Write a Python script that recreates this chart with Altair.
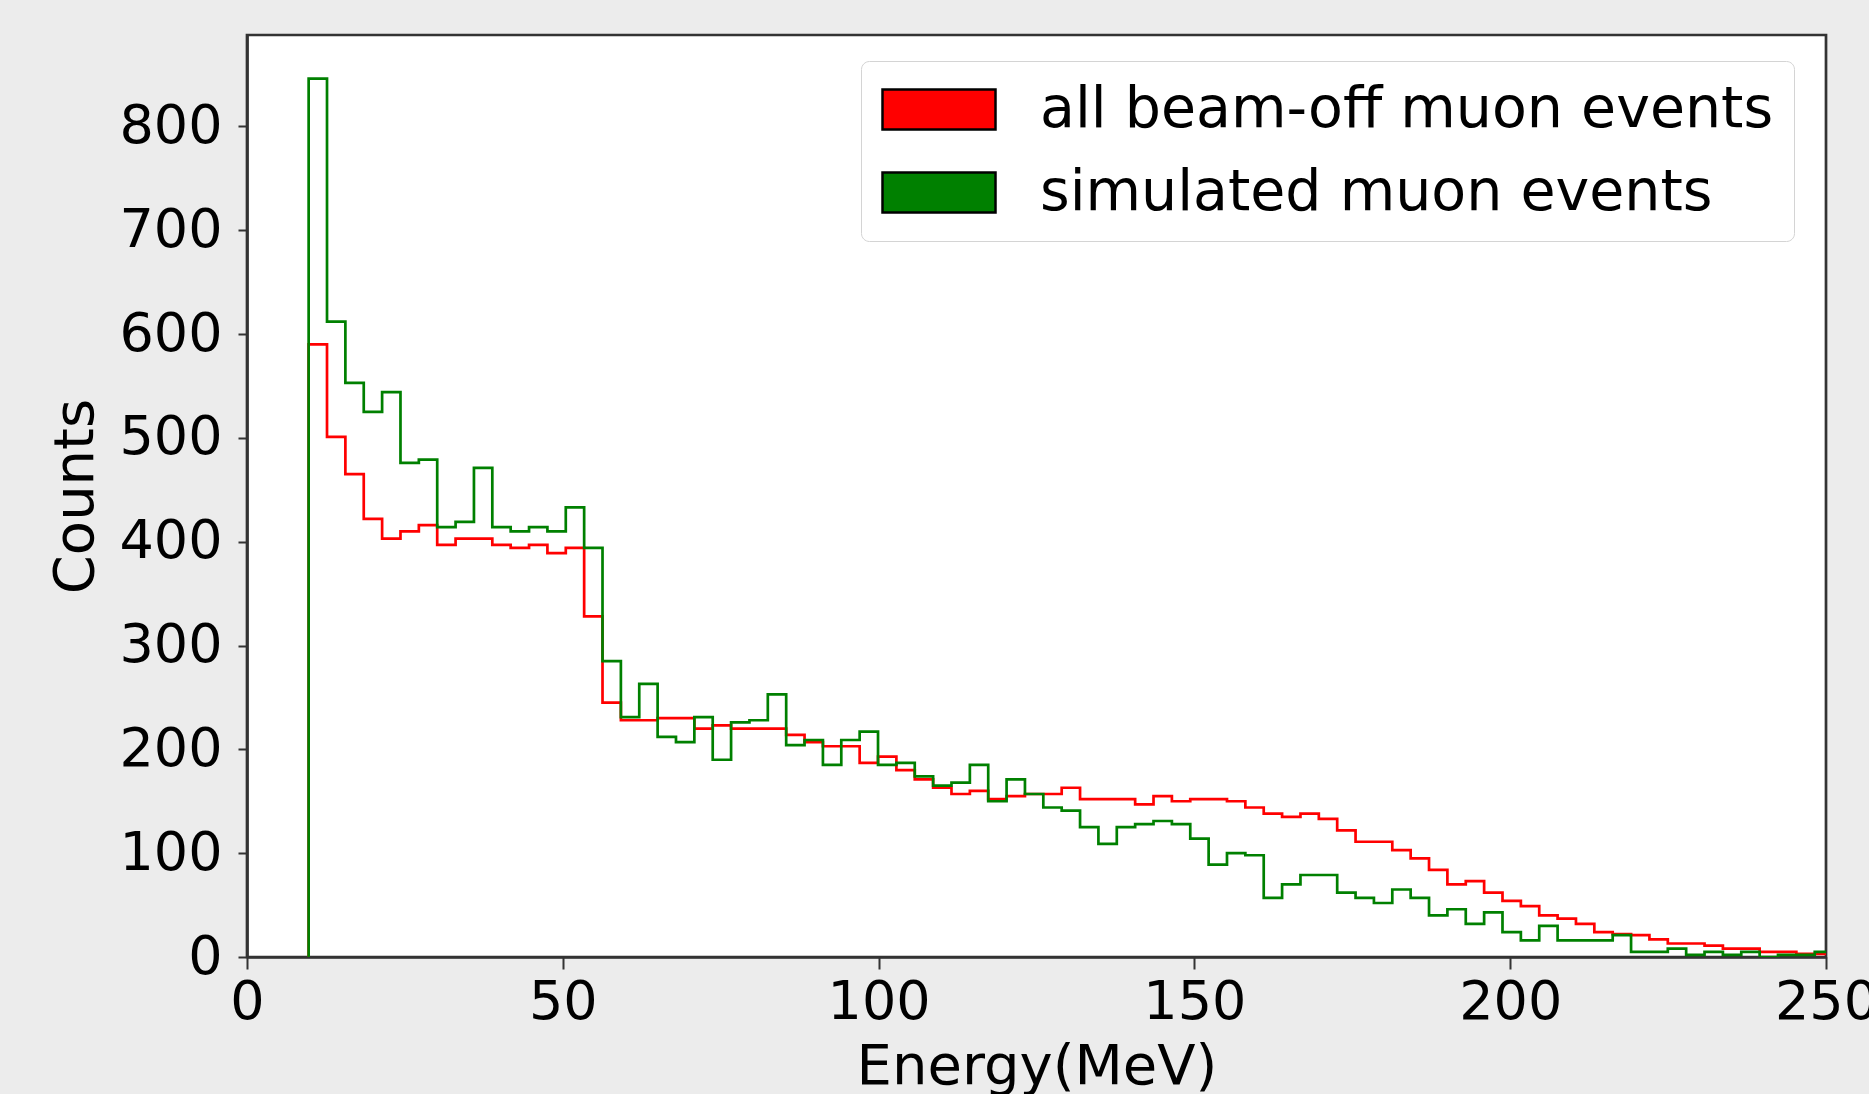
import altair as alt
import pandas as pd

# ---- data (counts per 2.908 MeV bin, starting at 9.76 MeV) ----
BIN_START = 9.76
BIN_WIDTH = 2.908

SERIES = ["all beam-off muon events", "simulated muon events"]
COLORS = ["#ff0000", "#008000"]

beam_off = [590, 501, 465, 422, 403, 410, 416, 397, 403, 403,
            397, 394, 397, 389, 394, 328, 245, 228, 228, 230,
            230, 220, 223, 220, 220, 220, 214, 207, 203, 203,
            187, 193, 180, 171, 163, 157, 160, 152, 155, 157,
            157, 163, 152, 152, 152, 147, 155, 150, 152, 152,
            150, 144, 138, 135, 138, 133, 122, 111, 111, 103,
            95, 84, 70, 73, 62, 54, 49, 40, 37, 32,
            24, 22, 21, 17, 13, 13, 11, 8, 8, 5,
            5, 3, 3]

simulated = [846, 612, 553, 525, 544, 476, 479, 414, 419, 471,
             414, 410, 414, 410, 433, 394, 285, 231, 263, 212,
             207, 231, 190, 226, 228, 253, 204, 209, 185, 209,
             217, 185, 187, 174, 165, 168, 185, 150, 171, 157,
             144, 141, 125, 109, 125, 128, 131, 128, 114, 89,
             100, 98, 57, 70, 79, 79, 62, 57, 52, 65,
             57, 40, 46, 32, 43, 24, 16, 30, 16, 16,
             16, 21, 5, 5, 8, 2, 5, 2, 5, 0,
             2, 2, 5]

X_TICKS = [0, 50, 100, 150, 200, 250]
Y_TICKS = [0, 100, 200, 300, 400, 500, 600, 700, 800]
X_DOMAIN = [0, 250]
Y_DOMAIN = [0, 888]


def step_rows(name, counts):
    edges = [BIN_START + i * BIN_WIDTH for i in range(len(counts) + 1)]
    rows = [dict(series=name, energy=edges[0], counts=0, order=0)]
    for i, c in enumerate(counts):
        rows.append(dict(series=name, energy=edges[i], counts=c, order=i + 1))
    rows.append(dict(series=name, energy=edges[-1], counts=counts[-1], order=len(counts) + 1))
    rows.append(dict(series=name, energy=edges[-1], counts=0, order=len(counts) + 2))
    return rows


df = pd.DataFrame(step_rows(SERIES[0], beam_off) + step_rows(SERIES[1], simulated))

FONT = "DejaVu Sans"

x_enc = alt.X(
    "energy:Q",
    scale=alt.Scale(domain=X_DOMAIN, nice=False, zero=False),
    axis=alt.Axis(
        values=X_TICKS, title="Energy(MeV)", format="d",
        labelFontSize=54, titleFontSize=56, labelPadding=6,
        tickSize=12, titleY=126, titleBaseline="alphabetic",
    ),
)
y_enc = alt.Y(
    "counts:Q",
    scale=alt.Scale(domain=Y_DOMAIN, nice=False),
    axis=alt.Axis(
        values=Y_TICKS, title="Counts", format="d",
        labelFontSize=54, titleFontSize=56, labelPadding=16,
        tickSize=9, titleX=-155, titleY=461, titleBaseline="alphabetic",
        titleAngle=270, titleAlign="center",
    ),
)

base = alt.Chart(df)


def step_layer(name, color):
    return (
        base.transform_filter(alt.datum.series == name)
        .mark_line(interpolate="step-after", strokeWidth=2.7, clip=True, color=color)
        .encode(x=x_enc, y=y_enc, order="order:Q")
    )


# legend-carrying layer: zero-size points, they only provide the fill legend
legend_layer = (
    base.mark_point(filled=True, size=0, strokeWidth=0)
    .encode(
        x=x_enc,
        y=y_enc,
        fill=alt.Fill(
            "series:N",
            scale=alt.Scale(domain=SERIES, range=COLORS),
            legend=alt.Legend(
                title=None,
                orient="none",
                legendX=614,
                legendY=26,
                symbolType="M-1,-0.354H1V0.354H-1Z",
                symbolSize=12769,
                symbolStrokeColor="black",
                symbolStrokeWidth=2.5,
                symbolOpacity=1,
                clipHeight=57,
                labelFontSize=57,
                labelFont=FONT,
                labelColor="black",
                labelOffset=43,
                labelLimit=2000,
                rowPadding=25,
                padding=20,
                fillColor="white",
                strokeColor="#d4d4d4",
                cornerRadius=8,
            ),
        ),
    )
)

chart = (
    alt.layer(step_layer(SERIES[0], COLORS[0]), step_layer(SERIES[1], COLORS[1]), legend_layer)
    .properties(
        width=1579,
        height=922,
        padding={"left": 247, "top": 35, "right": 43, "bottom": 137},
        autosize=alt.AutoSizeParams(type="none"),
        background="#ececec",
    )
    .configure_view(fill="white", stroke="#333333", strokeWidth=2.7)
    .configure_axis(
        grid=False,
        domain=True,
        domainColor="#333333",
        domainWidth=2.7,
        tickColor="#333333",
        tickWidth=2,
        labelColor="black",
        titleColor="black",
        labelFont=FONT,
        titleFont=FONT,
        titleFontWeight="normal",
        labelFlush=False,
        labelOverlap=False,
    )
)

chart.save("out.html", embed_options={"renderer": "svg", "actions": False})
